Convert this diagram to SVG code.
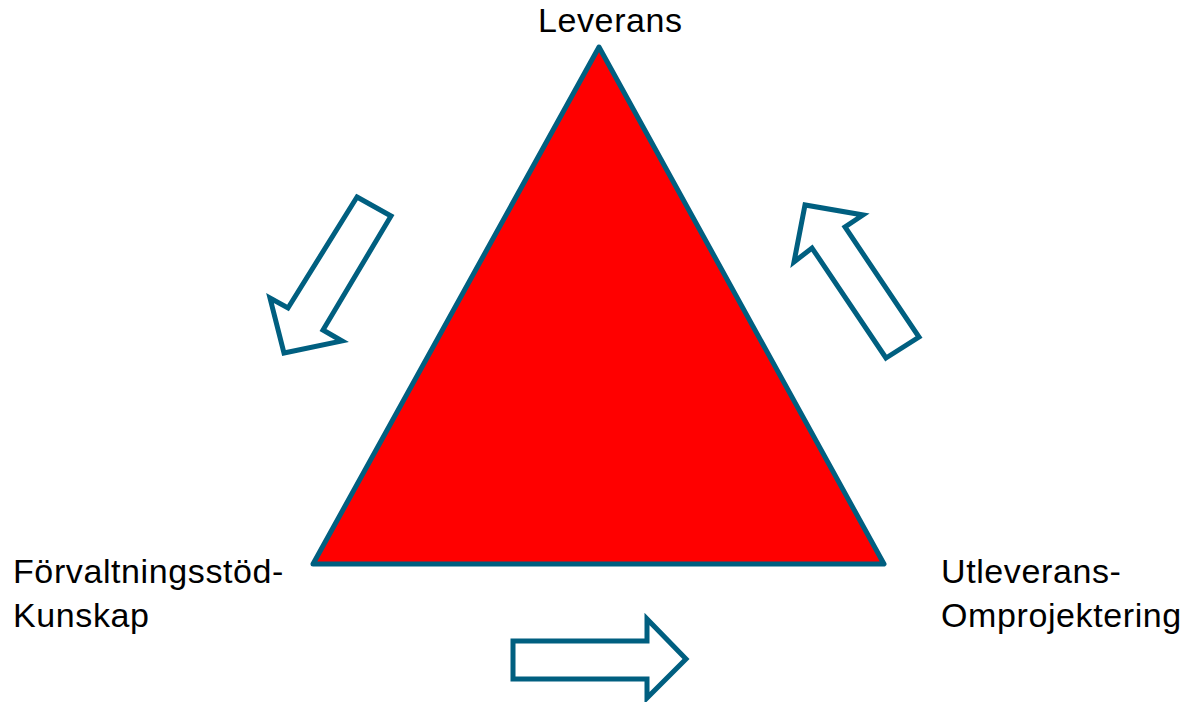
<svg xmlns="http://www.w3.org/2000/svg" width="1190" height="702" viewBox="0 0 1190 702">
<style>
.lbl{font-family:"Liberation Sans",Arial,sans-serif;font-size:34px;fill:#000;letter-spacing:0.6px}
.arr{fill:#fff;stroke:#005f80;stroke-width:5;stroke-linejoin:miter}
</style>
<rect width="1190" height="702" fill="#fff"/>
<g id="triangle">
<polygon points="599,47 884,564 313,564" fill="#ff0000" stroke="#005f80" stroke-width="5" stroke-linejoin="round"/>
</g>
<g id="label-leverans"><text class="lbl" x="538" y="32">Leverans</text></g>
<g id="label-forvaltning"><text class="lbl" x="13" y="583">Förvaltningsstöd-</text><text class="lbl" x="13" y="627">Kunskap</text></g>
<g id="label-utleverans"><text class="lbl" x="941" y="583">Utleverans-</text><text class="lbl" x="941" y="627">Omprojektering</text></g>
<g id="connectors">
<polygon class="arr" points="357,197 391,216 323,330 342,341 284,353 270,298 288,308"/>
<polygon class="arr" points="886,358 919,337 845,227 863,215 805,205 794,262 812,248"/>
<polygon class="arr" points="513,641 647,641 647,619 686,659 647,698 647,679 513,679"/>
</g>
</svg>
